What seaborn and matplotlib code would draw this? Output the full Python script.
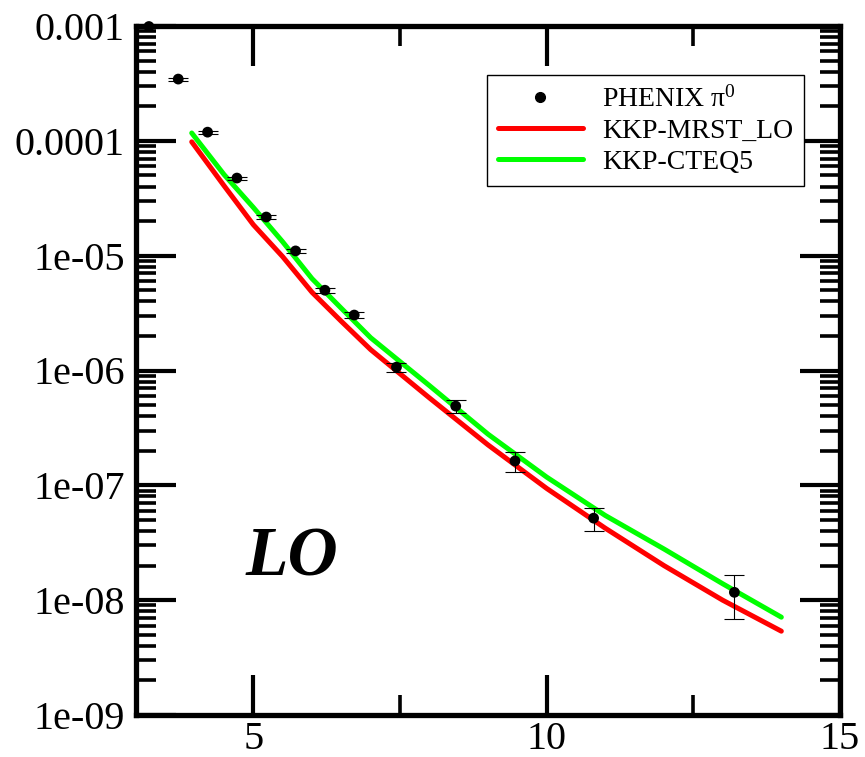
import numpy as np
import pandas as pd
import matplotlib
matplotlib.use("Agg")
import matplotlib.pyplot as plt
import matplotlib.ticker as mticker
from matplotlib.lines import Line2D
import seaborn as sns

# PHENIX pi0 data points
pt_data = [3.22, 3.72, 4.22, 4.72, 5.22, 5.72, 6.22, 6.72, 7.44, 8.45, 9.46, 10.8, 13.2]
xs_data = [0.99e-3, 3.45e-4, 1.19e-4, 4.74e-5, 2.17e-5, 1.10e-5, 5.0e-6, 3.04e-6,
           1.07e-6, 4.9e-7, 1.63e-7, 5.18e-8, 1.17e-8]
xs_err = [3.0e-5, 1.0e-5, 3.5e-6, 1.5e-6, 8e-7, 4e-7, 2.5e-7, 1.8e-7,
          1.0e-7, 6e-8, 3.2e-8, 1.2e-8, 4.8e-9]

# theory curves
pt_curve = [3.95, 4.5, 5.0, 5.5, 6.0, 6.5, 7.0, 8.0, 9.0, 10.0, 11.0, 12.0, 13.0, 14.0]
kkp_mrst = [9.8e-5, 4.07e-5, 1.86e-5, 9.8e-6, 4.8e-6, 2.68e-6, 1.52e-6, 5.78e-7,
            2.25e-7, 9.4e-8, 4.23e-8, 2.0e-8, 1.0e-8, 5.37e-9]
kkp_cteq = [1.17e-4, 5.09e-5, 2.63e-5, 1.32e-5, 6.31e-6, 3.48e-6, 1.93e-6, 7.4e-7,
            2.79e-7, 1.18e-7, 5.46e-8, 2.79e-8, 1.39e-8, 7.11e-9]

series_names = ["KKP-MRST_LO", "KKP-CTEQ5"]
series_colors = ["#ff0000", "#00ff00"]

sns.set_theme(style="ticks")
plt.rcParams['font.family'] = ['Liberation Serif', 'DejaVu Serif']
plt.rcParams['mathtext.fontset'] = 'custom'
plt.rcParams['mathtext.rm'] = 'Liberation Serif'
plt.rcParams['mathtext.it'] = 'Liberation Serif:italic'
plt.rcParams['text.color'] = 'black'
plt.rcParams['xtick.color'] = 'black'
plt.rcParams['ytick.color'] = 'black'
plt.rcParams['axes.edgecolor'] = 'black'

curves = pd.DataFrame({
    "pt": pt_curve * 2,
    "xs": kkp_mrst + kkp_cteq,
    "set": [series_names[0]] * len(pt_curve) + [series_names[1]] * len(pt_curve),
})

fig = plt.figure(figsize=(8.65, 7.57), dpi=100)
ax = fig.add_axes([136 / 865, 1 - 715 / 757, 704 / 865, 689 / 757])

sns.lineplot(data=curves, x="pt", y="xs", hue="set", palette=series_colors,
             linewidth=3.6, legend=False, ax=ax, sort=True)

ax.errorbar(pt_data, xs_data, yerr=xs_err, fmt="none", ecolor="black",
            elinewidth=0.8, capsize=7.5, capthick=0.8, zorder=4)
sns.scatterplot(x=pt_data, y=xs_data, color="black", s=60, edgecolor="none",
                ax=ax, zorder=5, clip_on=False)

ax.set_yscale("log")
ax.set_xlim(3, 15)
ax.set_ylim(1e-9, 1e-3)

ax.xaxis.set_major_locator(mticker.MultipleLocator(5))
ax.xaxis.set_minor_locator(mticker.MultipleLocator(2.5))
ax.xaxis.set_major_formatter(mticker.FormatStrFormatter("%g"))
ax.yaxis.set_major_locator(mticker.LogLocator(base=10, numticks=20))
ax.yaxis.set_minor_locator(mticker.LogLocator(base=10, subs=np.arange(2, 10), numticks=20))
ax.yaxis.set_major_formatter(mticker.FuncFormatter(lambda v, p: "%g" % v))
ax.yaxis.set_minor_formatter(mticker.NullFormatter())

ax.tick_params(which="both", direction="in", top=True, right=True, labelsize=29,
               colors="black")
ax.tick_params(which="major", length=29, width=3.0)
ax.tick_params(which="minor", length=14.5, width=2.6)
ax.tick_params(axis="y", pad=8)
ax.tick_params(axis="x", pad=4)
for sp in ax.spines.values():
    sp.set_linewidth(3.8)
    sp.set_color("black")
ax.set_xlabel("")
ax.set_ylabel("")

ax.text(5.66, 1.65e-8, "LO", fontsize=50, fontweight="bold", fontstyle="italic",
        ha="center", va="baseline", color="black")

handles = [
    Line2D([], [], marker="o", color="black", linestyle="none", markersize=7),
    Line2D([], [], color=series_colors[0], linewidth=3.6),
    Line2D([], [], color=series_colors[1], linewidth=3.6),
]
labels = [r"PHENIX $\mathrm{\pi}^{\mathit{0}}$"] + series_names
leg = ax.legend(handles, labels, loc="upper left", bbox_to_anchor=(0.4986, 0.9289),
                borderaxespad=0, fontsize=20, handlelength=3.05, handletextpad=0.68,
                borderpad=0.4, labelspacing=0.2, fancybox=False, framealpha=1,
                edgecolor="black")
leg.get_frame().set_linewidth(1.0)
for t in leg.get_texts():
    t.set_color("black")

fig.savefig("out.png", dpi=100)
